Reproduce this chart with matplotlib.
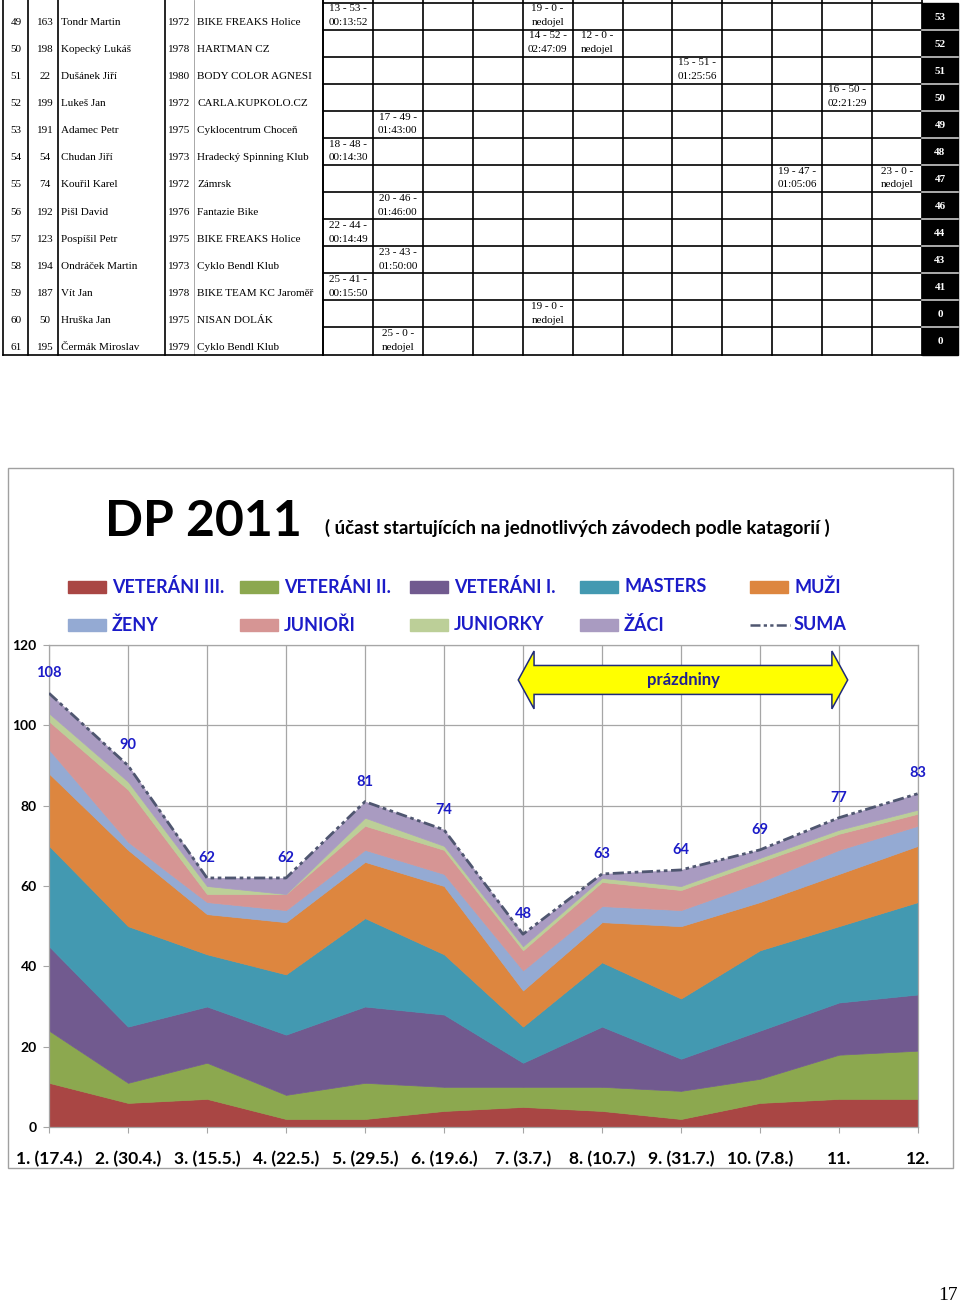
import matplotlib
matplotlib.use("Agg")
import matplotlib.pyplot as plt
import matplotlib.patches as mpatches
import numpy as np

# ---- results table (tail of the page above the chart) ----
ranks = [49, 50, 51, 52, 53, 54, 55, 56, 57, 58, 59, 60, 61]
start_numbers = [163, 198, 22, 199, 191, 54, 74, 192, 123, 194, 187, 50, 195]
names = ["Tondr Martin", "Kopecký Lukáš", "Dušánek Jiří", "Lukeš Jan", "Adamec Petr",
         "Chudan Jiří", "Kouřil Karel", "Pišl David", "Pospíšil Petr", "Ondráček Martin",
         "Vít Jan", "Hruška Jan", "Čermák Miroslav"]
years = [1972, 1978, 1980, 1972, 1975, 1973, 1972, 1976, 1975, 1973, 1978, 1975, 1979]
clubs = ["BIKE FREAKS Holice", "HARTMAN CZ", "BODY COLOR AGNESI", "CARLA.KUPKOLO.CZ",
         "Cyklocentrum Choceň", "Hradecký Spinning Klub", "Zámrsk", "Fantazie Bike",
         "BIKE FREAKS Holice", "Cyklo Bendl Klub", "BIKE TEAM KC Jaroměř", "NISAN DOLÁK",
         "Cyklo Bendl Klub"]
total_points = [53, 52, 51, 50, 49, 48, 47, 46, 44, 43, 41, 0, 0]
# (row, race column, "place - points - time")
race_results = [
    (0, 0, "13 - 53 -\n00:13:52"), (0, 4, "19 - 0 -\nnedojel"),
    (1, 4, "14 - 52 -\n02:47:09"), (1, 5, "12 - 0 -\nnedojel"),
    (2, 7, "15 - 51 -\n01:25:56"),
    (3, 10, "16 - 50 -\n02:21:29"),
    (4, 1, "17 - 49 -\n01:43:00"),
    (5, 0, "18 - 48 -\n00:14:30"),
    (6, 9, "19 - 47 -\n01:05:06"), (6, 11, "23 - 0 -\nnedojel"),
    (7, 1, "20 - 46 -\n01:46:00"),
    (8, 0, "22 - 44 -\n00:14:49"),
    (9, 1, "23 - 43 -\n01:50:00"),
    (10, 0, "25 - 41 -\n00:15:50"),
    (11, 4, "19 - 0 -\nnedojel"),
    (12, 1, "25 - 0 -\nnedojel"),
]

# ---- chart data ----
races = ["1. (17.4.)", "2. (30.4.)", "3. (15.5.)", "4. (22.5.)", "5. (29.5.)", "6. (19.6.)",
         "7. (3.7.)", "8. (10.7.)", "9. (31.7.)", "10. (7.8.)", "11.", "12."]
veterani_iii = [11, 6, 7, 2, 2, 4, 5, 4, 2, 6, 7, 7]
veterani_ii = [13, 5, 9, 6, 9, 6, 5, 6, 7, 6, 11, 12]
veterani_i = [21, 14, 14, 15, 19, 18, 6, 15, 8, 12, 13, 14]
masters = [25, 25, 13, 15, 22, 15, 9, 16, 15, 20, 19, 23]
muzi = [18, 19, 10, 13, 14, 17, 9, 10, 18, 12, 13, 14]
zeny = [6, 2, 3, 3, 3, 3, 5, 4, 4, 5, 6, 5]
juniori = [7, 13, 2, 4, 6, 6, 5, 6, 5, 5, 4, 3]
juniorky = [2, 2, 2, 0, 2, 1, 1, 1, 1, 1, 1, 1]
zaci = [5, 4, 2, 4, 4, 4, 3, 1, 4, 2, 3, 4]

categories = ["VETERÁNI III.", "VETERÁNI II.", "VETERÁNI I.", "MASTERS", "MUŽI",
              "ŽENY", "JUNIOŘI", "JUNIORKY", "ŽÁCI"]
series = [veterani_iii, veterani_ii, veterani_i, masters, muzi, zeny, juniori, juniorky, zaci]
colors = ["#a94644", "#8ca84f", "#715a8f", "#4399b1", "#dd863f",
          "#94aad3", "#d69594", "#bccf98", "#a99bc1"]
SUM_COLOR = "#4f5670"
BLUE = "#1b1bc8"
GRID = "#a6a6a6"
CHART_FONT = ["Lato", "DejaVu Sans"]
TABLE_FONT = ["Liberation Serif", "DejaVu Serif"]

fig = plt.figure(figsize=(9.6, 13.03), dpi=100)

# page layer in pixel coordinates
page = fig.add_axes([0, 0, 1, 1])
page.set_xlim(0, 960)
page.set_ylim(1303, 0)
page.axis("off")

# ---- table ----
row_top = 2.5
row_h = 27.08
n_rows = len(ranks)
table_bottom = row_top + n_rows * row_h
race_edges = np.linspace(323, 922, 13)

for xv in [3, 28, 58, 165, 323]:
    page.plot([xv, xv], [0, table_bottom], color="black", lw=1.2)
page.plot([194, 194], [0, table_bottom], color="#9a9a9a", lw=0.6)
for xv in race_edges:
    page.plot([xv, xv], [0, table_bottom], color="black", lw=1.2)
for i in range(n_rows + 1):
    yv = row_top + i * row_h
    page.plot([323, 922], [yv, yv], color="black", lw=1.2)
page.plot([3, 323], [table_bottom, table_bottom], color="black", lw=1.2)
page.add_patch(mpatches.Rectangle((922, row_top), 36, n_rows * row_h, color="black"))

tkw = dict(fontsize=8, family=TABLE_FONT, va="center")
for i in range(n_rows):
    ty = row_top + i * row_h + 20
    page.text(16, ty, str(ranks[i]), ha="center", **tkw)
    page.text(45, ty, str(start_numbers[i]), ha="center", **tkw)
    page.text(61, ty, names[i], ha="left", **tkw)
    page.text(190, ty, str(years[i]), ha="right", **tkw)
    page.text(197, ty, clubs[i], ha="left", **tkw)
    page.text(940, row_top + i * row_h + row_h / 2 + 1, str(total_points[i]), ha="center",
              va="center", color="white", fontweight="bold", fontsize=8, family=TABLE_FONT)
    if i > 0:
        yv = row_top + i * row_h
        page.plot([922, 958], [yv, yv], color="#c8c8c8", lw=1.2)

for r, c, txt in race_results:
    cx = (race_edges[c] + race_edges[c + 1]) / 2
    first, second = txt.split("\n")
    page.text(cx, row_top + r * row_h + 6.2, first, ha="center", **tkw)
    page.text(cx, row_top + r * row_h + 20, second, ha="center", **tkw)

# ---- chart frame, title and legend ----
page.add_patch(mpatches.Rectangle((8, 468), 945, 700, fill=False, ec="#a0a0a0", lw=1))
page.text(105, 536, "DP 2011", fontsize=36, fontweight="bold", family=CHART_FONT,
          ha="left", va="baseline")
page.text(325, 534, "( účast startujících na jednotlivých závodech podle katagorií )",
          fontsize=13.5, fontweight="bold", family=CHART_FONT, ha="left", va="baseline")

legend_x = [68, 240, 410, 580, 750]
legend_y = [587, 625]
for k, (label, col) in enumerate(zip(categories, colors)):
    lx = legend_x[k % 5]
    ly = legend_y[k // 5]
    page.add_patch(mpatches.Rectangle((lx, ly - 6), 38, 12, color=col))
    page.text(lx + 44, ly, label, color=BLUE, fontsize=13, fontweight="bold",
              family=CHART_FONT, ha="left", va="center")
page.plot([legend_x[4], legend_x[4] + 40], [legend_y[1], legend_y[1]], color=SUM_COLOR,
          lw=1.8, dashes=(4, 1.3, 1.3, 1.3, 1.3, 1.3))
page.text(legend_x[4] + 44, legend_y[1], "SUMA", color=BLUE, fontsize=13, fontweight="bold",
          family=CHART_FONT, ha="left", va="center")

page.text(948, 1295, "17", fontsize=14, family=TABLE_FONT, ha="center", va="center")

# ---- stacked area chart ----
ax = fig.add_axes([49 / 960, 1 - 1127 / 1303, 869 / 960, 482 / 1303])
ax.patch.set_alpha(0)
x = np.arange(1, len(races) + 1)
totals = np.sum(series, axis=0)

polys = ax.stackplot(x, *series, colors=colors)
for poly, col in zip(polys, colors):
    poly.set_edgecolor(col)
    poly.set_linewidth(0.5)
ax.plot(x, totals, color=SUM_COLOR, lw=2, dashes=(4, 1.3, 1.3, 1.3, 1.3, 1.3), zorder=5)

for xi, t in zip(x, totals):
    ax.annotate(str(t), (xi, t), xytext=(0, 14.5), textcoords="offset points",
                ha="center", va="center", color=BLUE, fontsize=10.5, fontweight="bold",
                family=CHART_FONT, annotation_clip=False)

ax.set_xlim(1, 12)
ax.set_ylim(0, 120)
ax.set_xticks(x)
ax.set_xticklabels(races, fontsize=12.5, fontweight="bold", family=CHART_FONT)
ax.set_yticks(range(0, 121, 20))
ax.set_yticklabels([str(v) for v in range(0, 121, 20)], fontsize=10, fontweight="bold",
                   family=CHART_FONT)
ax.tick_params(axis="x", length=4.5, color=GRID, pad=12.5)
ax.tick_params(axis="y", length=4.5, color=GRID, pad=4.3)
ax.grid(True, color=GRID, lw=0.9)
ax.set_axisbelow(True)
for s in ax.spines.values():
    s.set_color(GRID)
    s.set_linewidth(0.9)

# holiday arrow ("prázdniny")
arrow_x0, arrow_x1 = 6.94, 11.11
arrow_y = 111.3
body_half, head_half, head_len = 3.6, 7.2, 0.2
arrow_pts = [
    (arrow_x0, arrow_y), (arrow_x0 + head_len, arrow_y + head_half),
    (arrow_x0 + head_len, arrow_y + body_half), (arrow_x1 - head_len, arrow_y + body_half),
    (arrow_x1 - head_len, arrow_y + head_half), (arrow_x1, arrow_y),
    (arrow_x1 - head_len, arrow_y - head_half), (arrow_x1 - head_len, arrow_y - body_half),
    (arrow_x0 + head_len, arrow_y - body_half), (arrow_x0 + head_len, arrow_y - head_half),
]
ax.add_patch(mpatches.Polygon(arrow_pts, closed=True, fc="#ffff00", ec="#1f2a7a", lw=1.1,
                              zorder=6, clip_on=False))
ax.text((arrow_x0 + arrow_x1) / 2, arrow_y, "prázdniny", color="#1f1f8f", fontsize=12,
        fontweight="bold", family=CHART_FONT, ha="center", va="center", zorder=7)

fig.savefig("out.png", dpi=100)
